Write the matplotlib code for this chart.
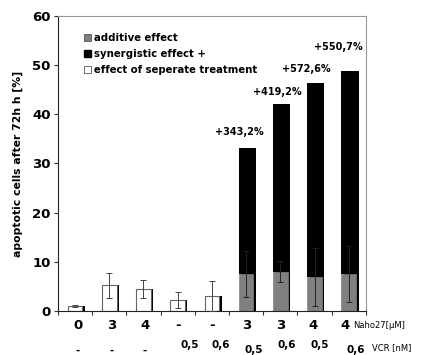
import matplotlib
matplotlib.use("Agg")
import matplotlib.pyplot as plt
import numpy as np
from matplotlib.patches import Patch

naho = ["0", "3", "4", "-", "-", "3", "3", "4", "4"]
vcr = ["-", "-", "-", "0,5", "0,6", "0,5", "0,6", "0,5", "0,6"]
separate = [1.0, 5.2, 4.5, 2.3, 3.0, 0, 0, 0, 0]
separate_err = [0.2, 2.5, 1.9, 1.6, 3.1, 0, 0, 0, 0]
additive = [0, 0, 0, 0, 0, 7.5, 8.0, 6.9, 7.5]
additive_err = [0, 0, 0, 0, 0, 4.7, 2.2, 5.9, 5.7]
synergistic = [0, 0, 0, 0, 0, 25.7, 34.0, 39.4, 41.3]
percent_labels = ["", "", "", "", "", "+343,2%", "+419,2%", "+572,6%", "+550,7%"]
label_y = [0, 0, 0, 0, 0, 36.5, 44.5, 49.2, 53.6]
label_dx = [0, 0, 0, 0, 0, -0.2, -0.1, -0.25, -0.3]

plt.rcParams['font.family'] = ['DejaVu Sans']
fig = plt.figure(figsize=(4.25, 3.55), dpi=100)
ax = fig.add_axes([0.136, 0.124, 0.725, 0.831])

x = np.arange(len(naho))
w = 0.43
sh = 0.07
sep = np.array(separate)
add = np.array(additive)
syn = np.array(synergistic)

tot = sep + add + syn
ax.bar(x + sh, tot, w, color="black", zorder=1)
ax.bar(x, sep, w, color="white", edgecolor="#666666", linewidth=0.8, zorder=2)
ax.bar(x, add, w, color="#808080", edgecolor="#808080", linewidth=0.5, zorder=2)
ax.bar(x, syn, w, bottom=add, color="black", zorder=2)

for i in range(len(x)):
    if separate_err[i] > 0:
        ax.errorbar(x[i], sep[i], yerr=separate_err[i], color="#444444",
                    capsize=2, elinewidth=0.7, capthick=0.7, zorder=3)
    if additive_err[i] > 0:
        ax.errorbar(x[i], add[i], yerr=additive_err[i], color="#222222",
                    capsize=2, elinewidth=0.7, capthick=0.7, zorder=3)
    if percent_labels[i]:
        ax.text(x[i] + label_dx[i], label_y[i], percent_labels[i], ha="center",
                va="center", fontsize=7, fontweight="bold")

ax.set_xlim(-0.5, 8.5)
ax.set_ylim(0, 60)
ax.set_yticks([0, 10, 20, 30, 40, 50, 60])
ax.tick_params(axis="y", labelsize=9.5, direction="out", length=3, color="#333333", pad=2)
for t in ax.get_yticklabels():
    t.set_fontweight("bold")
ax.set_xticks(np.arange(-0.5, 9.0, 1.0))
ax.set_xticklabels([])
ax.tick_params(axis="x", direction="out", length=3, color="#333333")
for k, s in ax.spines.items():
    s.set_linewidth(0.8)
    s.set_color("#222222" if k in ("left", "bottom") else "#999999")

naho_dx = [0.08, 0.08, 0.04, 0, 0, 0.03, 0, -0.04, -0.11]
vcr_dx = [0.08, 0.08, 0.04, 0.35, 0.25, 0.22, 0.18, 0.14, 0.21]
vcr_y = [-8.0, -8.0, -8.0, -7.0, -7.0, -8.0, -7.0, -7.0, -8.0]
for i in range(len(x)):
    ax.text(x[i] + naho_dx[i], -2.9, naho[i], ha="center", va="center", fontsize=9.5,
            fontweight="bold", clip_on=False)
    ax.text(x[i] + vcr_dx[i], vcr_y[i], vcr[i], ha="center", va="center",
            fontsize=7.5, fontweight="bold", clip_on=False)
ax.text(8.14, -2.9, "Naho27[µM]", ha="left", va="center", fontsize=6, clip_on=False)
ax.text(8.68, -7.4, "VCR [nM]", ha="left", va="center", fontsize=6, clip_on=False)

ax.set_ylabel("apoptotic cells after 72h h [%]", fontsize=7.8, fontweight="bold", labelpad=7)

handles = [Patch(facecolor="#808080", edgecolor="#555555", linewidth=0.6),
           Patch(facecolor="black", edgecolor="black"),
           Patch(facecolor="white", edgecolor="#555555", linewidth=0.6)]
labels = ["additive effect", "synergistic effect +", "effect of seperate treatment"]
leg = ax.legend(handles, labels, loc="upper left", bbox_to_anchor=(0.072, 0.955),
                frameon=False, prop={"size": 7.3, "weight": "bold"},
                handlelength=0.7, handleheight=0.7, handletextpad=0.3,
                labelspacing=0.58, borderaxespad=0)

fig.savefig("out.png", dpi=100)
